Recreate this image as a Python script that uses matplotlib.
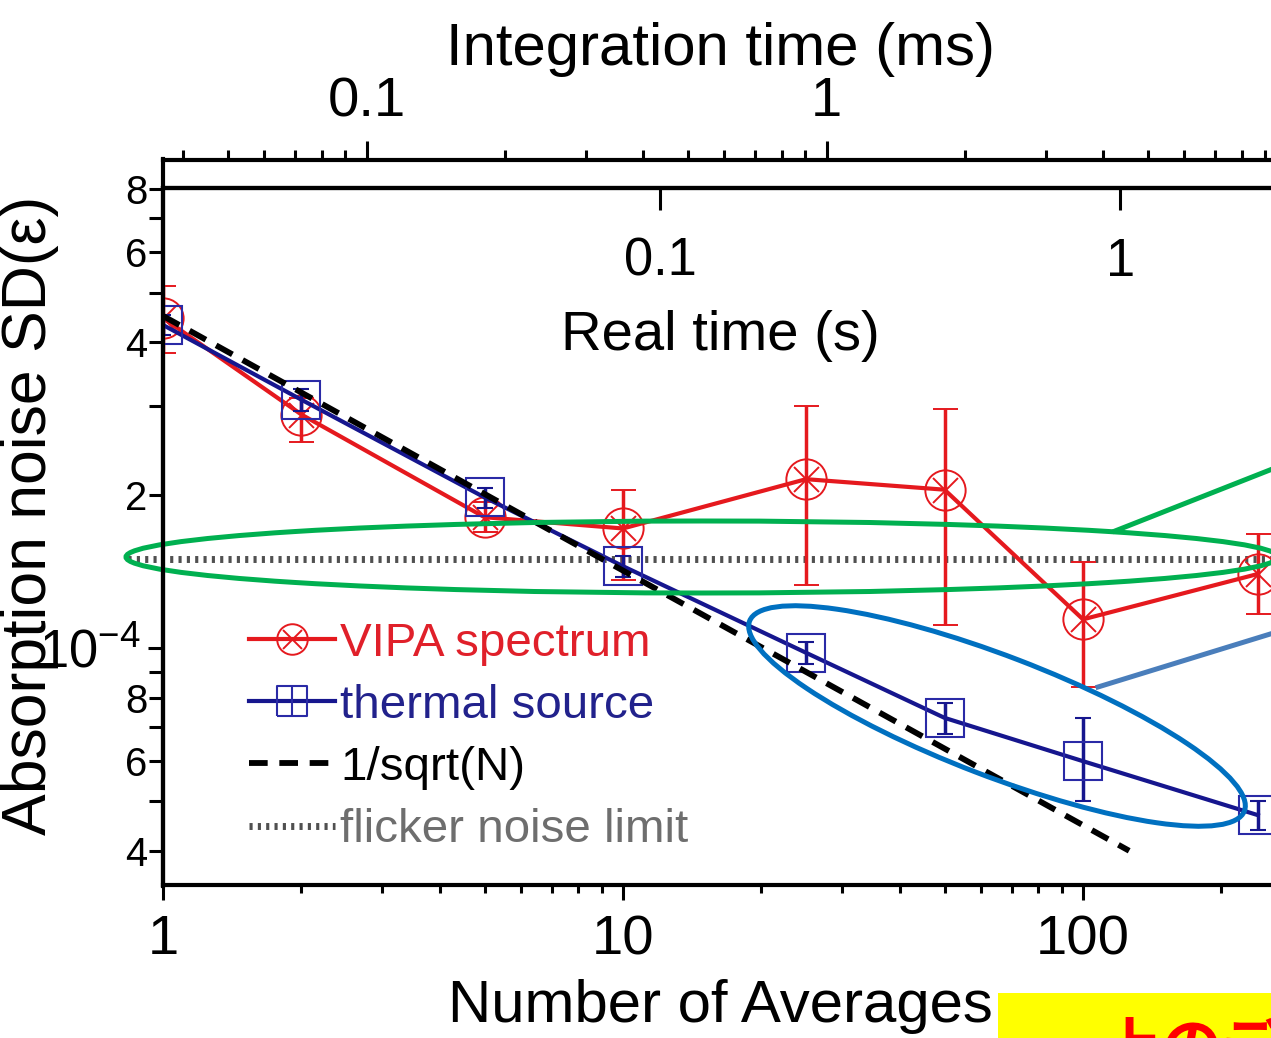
import matplotlib
matplotlib.use("Agg")
import matplotlib.pyplot as plt
import numpy as np
from matplotlib import font_manager
from matplotlib.path import Path
from matplotlib.patches import Ellipse, Rectangle
from matplotlib.lines import Line2D
from matplotlib.ticker import (LogLocator, NullLocator, FixedLocator,
                               FuncFormatter, NullFormatter)

# values
n_avg = [1, 2, 5, 10, 25, 50, 100, 240]

vipa = [4.46e-4, 2.88e-4, 1.81e-4, 1.72e-4, 2.15e-4, 2.05e-4, 1.14e-4, 1.40e-4]
vipa_lo = [3.81e-4, 2.54e-4, 1.69e-4, 1.36e-4, 1.33e-4, 1.11e-4, 0.84e-4, 1.17e-4]
vipa_hi = [5.15e-4, 3.11e-4, 1.94e-4, 2.05e-4, 2.99e-4, 2.96e-4, 1.48e-4, 1.68e-4]

thermal = [4.32e-4, 3.08e-4, 1.98e-4, 1.45e-4, 0.98e-4, 0.73e-4, 0.60e-4, 0.47e-4]
thermal_lo = [4.12e-4, 2.93e-4, 1.89e-4, 1.38e-4, 0.93e-4, 0.68e-4, 0.50e-4, 0.44e-4]
thermal_hi = [4.52e-4, 3.23e-4, 2.07e-4, 1.52e-4, 1.03e-4, 0.78e-4, 0.73e-4, 0.50e-4]

sqrt_n = [1, 126]
sqrt_sd = [4.5e-4, 4.0e-5]

flicker_n = [0.84, 256]
flicker_sd = [1.5e-4, 1.5e-4]

real_ticks = [0.1, 1]
int_ticks = [0.1, 1]
REAL_PER_AVG = 0.0083   # s per average
INT_PER_AVG = 0.0361    # ms per average

RED = "#e5191e"
NAVY = "#16168e"

W, H = 1271, 1038

names = {f.name for f in font_manager.fontManager.ttflist}
if "Liberation Sans Narrow" in names:
    FONT, K = "Liberation Sans Narrow", 1.0
else:
    FONT, K = "Liberation Sans", 0.9
plt.rcParams["font.family"] = [FONT, "DejaVu Sans"]
plt.rcParams["mathtext.fontset"] = "custom"
plt.rcParams["mathtext.rm"] = FONT
plt.rcParams["mathtext.it"] = FONT
plt.rcParams["mathtext.bf"] = FONT


def px(x, y):
    # pixel position (from top-left) -> inches for dpi_scale_trans
    return (x / 100, (H - y) / 100)


# circle with an x inside
s = 0.62
cross = Path([(-s, -s), (s, s), (-s, s), (s, -s)],
             [Path.MOVETO, Path.LINETO, Path.MOVETO, Path.LINETO])
circle_x = Path.make_compound_path(Path.unit_circle(), cross)
# square with a vertical bar, for the legend
square_bar = Path.make_compound_path(
    Path([(-1, -1), (1, -1), (1, 1), (-1, 1), (-1, -1)]),
    Path([(0, -1), (0, 1)], [Path.MOVETO, Path.LINETO]))

fig = plt.figure(figsize=(W / 100, H / 100), dpi=100)
ax = fig.add_axes([163 / W, 1 - 885 / H, 1 - 163 / W, (885 - 188) / H])
ax.set_xscale("log")
ax.set_yscale("log")

flick, = ax.plot(flicker_n, flicker_sd, color="#505050", lw=5,
                 dashes=(0.45, 0.75), clip_on=False, zorder=2,
                 label="flicker noise limit")

ax.errorbar(n_avg, vipa,
            yerr=[np.subtract(vipa, vipa_lo), np.subtract(vipa_hi, vipa)],
            color=RED, lw=3, marker=circle_x, ms=29, mfc="none",
            mec=RED, mew=1.4, elinewidth=2.5, capsize=9, capthick=2.5,
            zorder=3)

ax.errorbar(n_avg, thermal,
            yerr=[np.subtract(thermal, thermal_lo), np.subtract(thermal_hi, thermal)],
            color=NAVY, lw=3, marker="s", ms=27, mfc="none",
            mec="#2a2aa6", mew=1.5, elinewidth=2.5, capsize=6,
            capthick=2.5, zorder=4)

dash, = ax.plot(sqrt_n, sqrt_sd, color="k", lw=4.2, dashes=(3.2, 2.0),
                zorder=5, label="1/sqrt(N)")

ax.set_xlim(1, 10 ** ((W - 163) / 460))
ax.set_ylim(10 ** (-4 - (885 - 647) / 511.6), 8.03e-4)

for side in ["left", "bottom", "top"]:
    ax.spines[side].set_linewidth(3)
ax.spines["right"].set_visible(False)

ax.xaxis.set_major_locator(LogLocator(base=10))
ax.xaxis.set_minor_locator(LogLocator(base=10, subs=np.arange(2, 10)))
ax.xaxis.set_major_formatter(FuncFormatter(lambda v, p: f"{v:g}"))
ax.xaxis.set_minor_formatter(NullFormatter())
ax.yaxis.set_major_locator(LogLocator(base=10))
ax.yaxis.set_minor_locator(LogLocator(base=10, subs=np.arange(2, 10)))


def major_y(v, p):
    e = int(round(np.log10(v)))
    return r"$10^{%d}$" % e


def minor_y(v, p):
    m = int(round(v / 10 ** np.floor(np.log10(v))))
    return str(m) if m in (2, 4, 6, 8) else ""


ax.yaxis.set_major_formatter(FuncFormatter(major_y))
ax.yaxis.set_minor_formatter(FuncFormatter(minor_y))

ax.tick_params(axis="x", which="major", direction="out", length=11, width=2.2,
               pad=10, labelsize=45 * K)
ax.tick_params(axis="x", which="minor", direction="out", length=6, width=2.2)
ax.tick_params(axis="y", which="major", direction="out", length=11, width=2.2,
               pad=5, labelsize=42 * K)
ax.tick_params(axis="y", which="minor", direction="out", length=10, width=2.2,
               pad=1.5, labelsize=32 * K)

# real time axis on the top spine, ticks and labels inside
sec_rt = ax.secondary_xaxis("top", functions=(lambda n: np.asarray(n) * REAL_PER_AVG,
                                              lambda t: np.asarray(t) / REAL_PER_AVG))
sec_rt.xaxis.set_major_locator(FixedLocator(real_ticks))
sec_rt.xaxis.set_major_formatter(FuncFormatter(lambda v, p: f"{v:g}"))
sec_rt.xaxis.set_minor_locator(NullLocator())
sec_rt.tick_params(axis="x", which="major", direction="in", length=16, width=2.2,
                   pad=-71, labelsize=42 * K)
sec_rt.spines["top"].set_linewidth(3)

# integration time axis just above
sec_it = ax.secondary_xaxis(1 + 28 / 697,
                            functions=(lambda n: np.asarray(n) * INT_PER_AVG,
                                       lambda t: np.asarray(t) / INT_PER_AVG))
sec_it.xaxis.set_major_locator(FixedLocator(int_ticks))
sec_it.xaxis.set_minor_locator(LogLocator(base=10, subs=np.arange(2, 10)))
sec_it.xaxis.set_major_formatter(FuncFormatter(lambda v, p: f"{v:g}"))
sec_it.xaxis.set_minor_formatter(NullFormatter())
sec_it.tick_params(axis="x", which="major", direction="out", length=14, width=2.2,
                   pad=9, labelsize=45 * K)
sec_it.tick_params(axis="x", which="minor", direction="out", length=7, width=2.2)
sec_it.spines["top"].set_linewidth(3)

# left spine runs up to the integration-time line
fig.add_artist(Line2D([163 / 100, 163 / 100], [px(0, 886)[1], px(0, 159)[1]],
                      transform=fig.dpi_scale_trans, color="k", lw=3))

fig.text(720 / W, 1 - 65 / H, "Integration time (ms)", ha="center",
         va="baseline", fontsize=48 * K)
fig.text(720 / W, 1 - 350 / H, "Real time (s)", ha="center", va="baseline",
         fontsize=45 * K)
fig.text(720 / W, 1 - 1022 / H, "Number of Averages", ha="center",
         va="baseline", fontsize=48 * K)
fig.text(30 / W, 1 - 515 / H, "Absorption noise SD(\u03b5)", rotation=90,
         ha="center", va="center", fontsize=45,
         family=["Liberation Sans", "DejaVu Sans"])

# legend proxies
h_red = Line2D([], [], color=RED, lw=3, marker=circle_x, ms=22, mfc="none",
               mec=RED, mew=1.4)
h_blue = Line2D([], [], color=NAVY, lw=3, marker=square_bar, ms=21, mfc="none",
                mec="#2a2aa6", mew=1.5)
ax.legend(handles=[h_red, h_blue, dash, flick],
          labels=["VIPA spectrum", "thermal source", "1/sqrt(N)",
                  "flicker noise limit"],
          loc="upper left", bbox_to_anchor=(249 / W, 1 - 622 / H),
          bbox_transform=fig.transFigure, frameon=False, fontsize=38 * K,
          handlelength=1.8, handletextpad=0.12, labelspacing=0.38, borderpad=0,
          borderaxespad=0,
          labelcolor=["#e0202a", "#22228c", "black", "#6e6e6e"])

# annotations
tr = fig.dpi_scale_trans
fig.add_artist(Ellipse(px(702, 557), 11.52, 0.72, angle=0, fill=False,
                       ec="#00b050", lw=3.6, transform=tr))
fig.add_artist(Line2D([px(1115, 531)[0], px(1280, 466)[0]],
                      [px(1115, 531)[1], px(1280, 466)[1]],
                      transform=tr, color="#00b050", lw=3.6))
fig.add_artist(Ellipse(px(997, 716), 5.30, 1.20, angle=-21, fill=False,
                       ec="#0070c0", lw=3.6, transform=tr))
fig.add_artist(Line2D([px(1098, 687)[0], px(1280, 631)[0]],
                      [px(1098, 687)[1], px(1280, 631)[1]],
                      transform=tr, color="#4a7ebb", lw=3.6))
fig.add_artist(Rectangle(px(998, 1045), 3.0, 0.52, facecolor="#ffff00",
                         edgecolor="none", transform=tr))
fig.text(1100 / W, 1 - 1020 / H, "上のデータ", color="red", fontsize=44,
         fontweight="bold", ha="left", va="top",
         family=["Noto Sans CJK JP", "DejaVu Sans"])

fig.savefig("out.png", dpi=100)
